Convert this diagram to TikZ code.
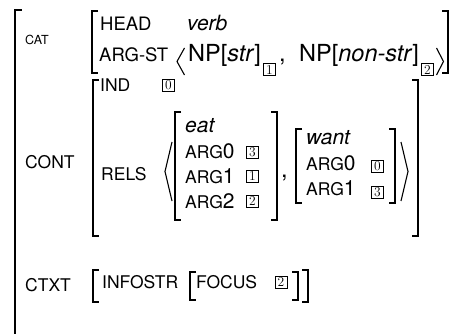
\documentclass[tikz,border=0pt]{standalone}
\usepackage{fontspec}
\newfontfamily\hv{TeX Gyre Heros}
% square bracket: #1 = x of the bar, #2 = top y, #3 = bottom y, #4 = serif direction (+ / -)
\newcommand\avmbr[4]{\draw[brk] (#1#4 6,#2) -- (#1,#2) -- (#1,#3) -- (#1#4 6,#3);}
% angle bracket: #1 = tip x, #2 = open x, #3 = top y, #4 = bottom y
\newcommand\avmang[4]{\draw[ang] (#2,#3) -- (#1,{(#3+#4)/2}) -- (#2,#4);}
\tikzset{
  brk/.style={line width=1.4pt, line cap=butt, line join=miter},
  ang/.style={line width=1.1pt},
  feat/.style={anchor=base west, inner sep=0pt, font=\hv\fontsize{17.5}{20}\selectfont},
  bigfeat/.style={feat, font=\hv\fontsize{18.5}{21}\selectfont},
  smallfeat/.style={feat, font=\hv\fontsize{12.5}{15}\selectfont},
  val/.style={anchor=base west, inner sep=0pt, font=\hv\fontsize{23.5}{27}\selectfont},
  valit/.style={val, font=\hv\itshape\fontsize{21}{24}\selectfont},
  tag/.style={draw, line width=0.75pt, minimum size=12pt, inner sep=0pt,
              font=\fontsize{13.5}{13.5}\selectfont},
  sub/.style={tag, anchor=north west},
}
\newcommand\bigd[1]{{\fontsize{21}{24}\selectfont #1}}
\begin{document}
\begin{tikzpicture}[x=1pt, y=-1pt]
\useasboundingbox (0,0) rectangle (458,334);

% outermost AVM (left bracket only)
\draw[brk] (21.5,10) -- (15,10) -- (15,340);

% ---- CAT ----
\node[smallfeat] (cat) at (25,44.5) {CAT};
\avmbr{92}{11}{73}{+}
\avmbr{448}{11}{73}{-}
\node[bigfeat] (head) at (100,31) {HEAD};
\node[valit] (verb) at (187,31) {verb};
\node[bigfeat] (argst) at (99,62) {ARG-ST};
\avmang{177}{184.5}{48}{75}
\node[val] (np1) at (188,62) {NP[\textit{str}]};
\node[sub] (t1) at ([shift={(2pt,-1.5pt)}]np1.base east) {1};
\node[val] (comma1) at ([xshift=3pt]t1.north east |- np1.base) {,};
\node[val] (np2) at (299,62) {NP[\textit{non-str}]};
\node[sub] (t2) at ([shift={(2pt,-1.5pt)}]np2.base east) {2};
\avmang{443.5}{436.5}{48}{75}

% ---- CONT ----
\node[feat] (cont) at (25,168) {CONT};
\avmbr{93}{80}{236}{+}
\avmbr{418}{80}{236}{-}
\node[feat] (ind) at (100,91.7) {IND};
\node[tag] (t0) at (168.5,85.5) {0};
\node[feat] (rels) at (101,180) {RELS};
\avmang{165}{172}{142}{201}

% eat relation
\avmbr{175}{112}{220}{+}
\avmbr{277}{112}{220}{-}
\node[valit] (eat) at (185,133) {eat};
\node[feat] (eA0) at (185,159) {ARG\bigd{0}};
\node[tag] (e3) at (252.5,152.5) {3};
\node[feat] (eA1) at (185,183.5) {ARG\bigd{1}};
\node[tag] (e1) at (252.5,176.5) {1};
\node[feat] (eA2) at (185,208) {ARG\bigd{2}};
\node[tag] (e2) at (252.5,201) {2};
\node[val] (comma2) at (281,178) {,};

% want relation
\avmbr{296}{129}{203}{+}
\avmbr{395}{129}{203}{-}
\node[valit] (want) at (306,145) {want};
\node[feat] (wA0) at (306,170.5) {ARG\bigd{0}};
\node[tag] (w0) at (377.5,166) {0};
\node[feat] (wA1) at (306,196) {ARG\bigd{1}};
\node[tag] (w3) at (377.5,192.5) {3};
\avmang{408}{401}{142}{201}

% ---- CTXT ----
\node[feat] (ctxt) at (25,291.5) {CTXT};
\avmbr{93}{270}{302}{+}
\node[feat] (infostr) at (102,288) {INFOSTR};
\avmbr{190}{272}{300}{+}
\node[feat] (focus) at (196,288) {FOCUS};
\node[tag] (f2) at (281,282) {2};
\avmbr{298}{272}{300}{-}
\avmbr{308}{270}{302}{-}
\end{tikzpicture}
\end{document}
